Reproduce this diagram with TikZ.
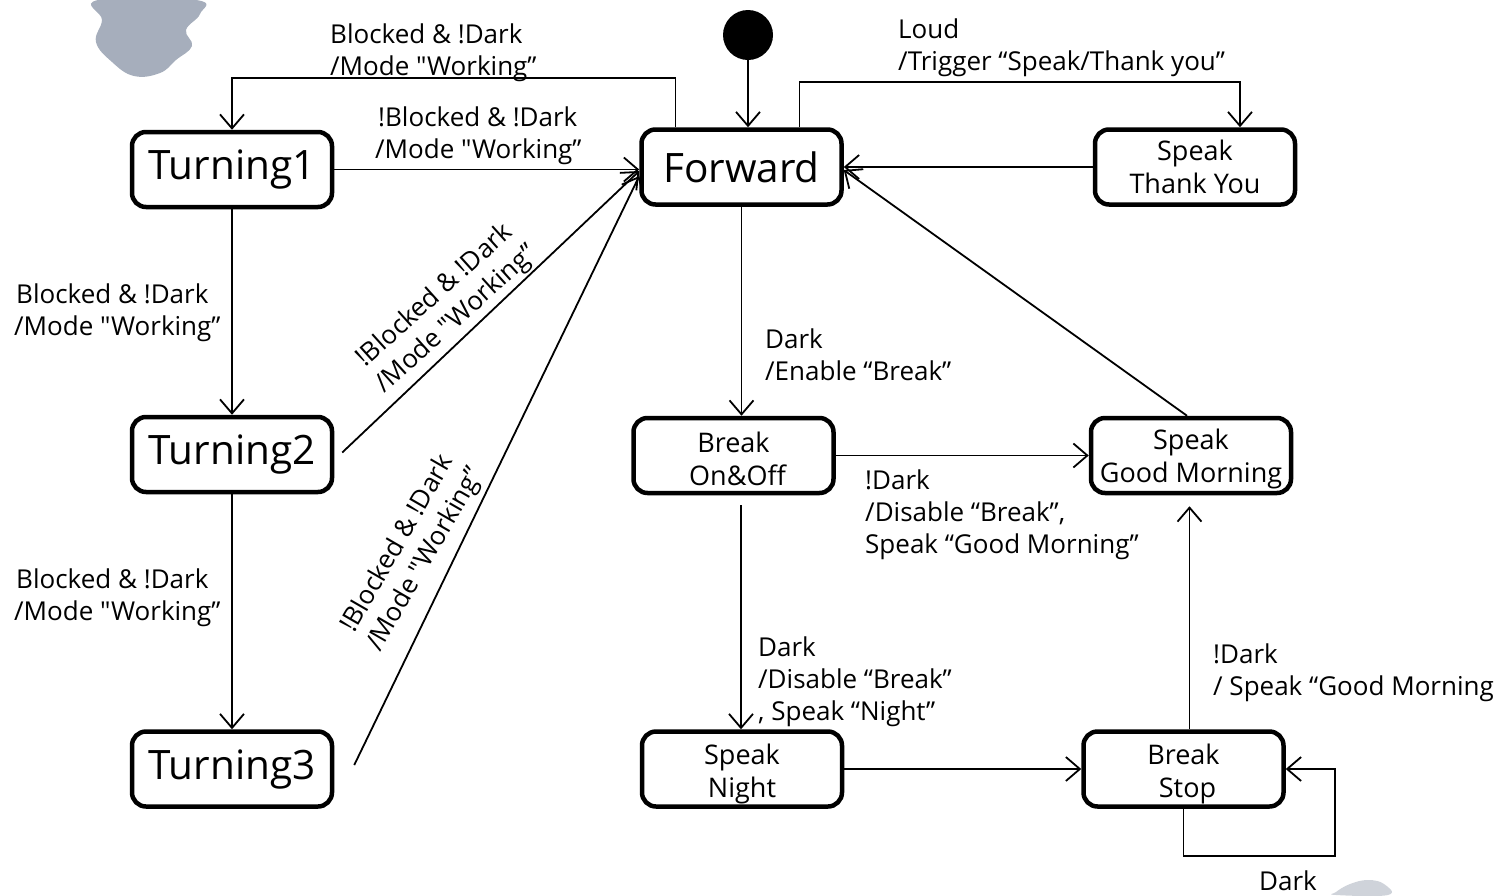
\documentclass[tikz,border=0pt]{standalone}
\usepackage{fontspec}
\setmainfont{Open Sans}[Ligatures=TeXOff]
\usetikzlibrary{arrows.meta}
\newcommand{\lowered}{\rule{0pt}{28pt}}
\begin{document}
\begin{tikzpicture}[x=1pt,y=-1pt,
  state/.style={draw, line width=4.5pt, rounded corners=14pt,
    minimum width=200pt, minimum height=75pt, align=center, inner sep=0pt},
  bigstate/.style={state, font=\fontsize{40.5}{44}\selectfont},
  smallstate/.style={state, font=\fontsize{27}{33}\selectfont},
  lbl/.style={font=\fontsize{26}{32}\selectfont, align=left, inner sep=0pt, anchor=base west},
  rlbl/.style={font=\fontsize{26}{32}\selectfont, align=center, inner sep=0pt},
  tr/.style={line width=1.8pt, -{Straight Barb[length=14pt,width=24pt,line width=1.8pt]}},
]
\useasboundingbox (0,0) rectangle (1508,895);

% paper smudges
\fill[fill={rgb,255:red,150;green,160;blue,176}, opacity=0.85]
  plot[smooth cycle, tension=0.7] coordinates {(98,0) (196,0) (200,14) (186,30) (192,46)
  (176,60) (160,73) (134,76) (112,62) (96,42) (102,20)};
\fill[fill={rgb,255:red,160;green,168;blue,182}, opacity=0.5]
  plot[smooth cycle, tension=0.7] coordinates {(1336,892) (1350,884) (1368,880)
  (1384,884) (1388,895) (1336,895)};

% initial pseudo-state
\node[circle, fill=black, minimum size=50pt, inner sep=0pt] (init) at (748,35) {};

% states
\node[bigstate] (T1) at (232,169.5) {Turning1};
\node[bigstate] (T2) at (232,454.5) {Turning2};
\node[bigstate] (T3) at (232,769) {Turning3};
\node[bigstate] (F) at (741.5,167) {Forward};
\node[smallstate] (STY) at (1195,167) {Speak\\Thank You};
\node[smallstate] (BOO) at (733.5,455.5) {\rule{0pt}{27pt}Break\\\hspace*{8pt}On\&Off};
\node[smallstate] (SGM) at (1191,455.5) {\rule{0pt}{27pt}Speak\\Good Morning};
\node[smallstate] (SN) at (742,769) {\rule{0pt}{30pt}Speak\\Night};
\node[smallstate] (BS) at (1183.5,769) {\rule{0pt}{30pt}Break\\\hspace*{8pt}Stop};

% helper points
\coordinate (bsn) at ([xshift=6pt]BS.north);
\coordinate (gm) at ([yshift=-11pt]SGM.south);
\coordinate (boos) at ([xshift=7.5pt, yshift=-10pt]BOO.south);
\coordinate (loop) at ([xshift=49.5pt, yshift=-87pt]BS.east);

% transitions
\draw[tr] (init) -- (F.north -| init);
\draw[tr] ([xshift=-66pt]F.north) -- ++(0,-49) -| (T1.north);
\draw[tr] (T1.east) -- (F.west |- T1.east);
\draw[tr] (T1.south) -- (T2.north);
\draw[tr] (T2.south) -- (T3.north);
\draw[tr] ([xshift=8pt,yshift=2pt]T2.east) -- ([yshift=-4pt]F.west);
\draw[tr] ([xshift=20pt,yshift=4pt]T3.east) -- ([yshift=-9pt]F.west);
\draw[tr] (F.south) -- (F.south |- BOO.north);
\draw[tr] ([xshift=58pt]F.north) -- ++(0,-45) -| ([xshift=45pt]STY.north);
\draw[tr] (STY.west) -- (F.east);
\draw[tr] ([xshift=-4pt]SGM.north) -- ([yshift=-3pt]F.east);
\draw[tr] (BOO.east) -- (SGM.west);
\draw[tr] (boos) -- (boos |- SN.north);
\draw[tr] (SN.east) -- (BS.west |- SN.east);
\draw[tr] (bsn) -- (bsn |- gm);
\draw[tr] (BS.south) |- (loop) |- (BS.east);

% transition labels (anchored at the baseline of their last line)
\node[lbl] (l1) at (330,75) {Blocked \& !Dark\\/Mode "Working”};
\node[lbl] (l2) at (375,158) {\hspace*{3pt}!Blocked \& !Dark\\/Mode "Working”};
\node[lbl] (l3) at (14,335) {\hspace*{2pt}Blocked \& !Dark\\/Mode "Working”};
\node[lbl] (l4) at (14,620) {\hspace*{2pt}Blocked \& !Dark\\/Mode "Working”};
\node[rlbl, rotate=42] (l5) at (446,308) {!Blocked \& !Dark\\/Mode "Working”};
\node[rlbl, rotate=60] (l6) at (412,552) {!Blocked \& !Dark\\/Mode "Working”};
\node[lbl] (l7) at (765,380) {Dark\\/Enable “Break”};
\node[lbl] (l8) at (898,70) {Loud\\/Trigger “Speak/Thank you”};
\node[lbl] (l9) at (865,553) {!Dark\\/Disable “Break”,\\Speak “Good Morning”};
\node[lbl] (l10) at (758,720) {Dark\\/Disable “Break”\\, Speak “Night”};
\node[lbl] (l11) at (1213,695) {!Dark\\/ Speak “Good Morning};
\node[lbl] (l12) at (1259,890) {Dark};
\end{tikzpicture}
\end{document}
